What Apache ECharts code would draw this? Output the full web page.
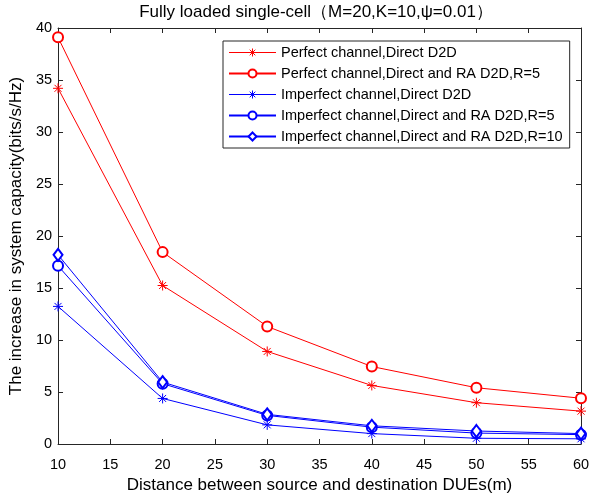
<!DOCTYPE html>
<html>
<head>
<meta charset="utf-8">
<script src="https://cdn.jsdelivr.net/npm/echarts@6/dist/echarts.min.js"></script>
<style>
  html, body { margin: 0; padding: 0; background: #fff; }
  #chart { width: 594px; height: 499px; }
</style>
</head>
<body>
<div id="chart"></div>
<script>
// distance between source and destination DUEs (m)
const distances = [10, 20, 30, 40, 50, 60]
const perfectDirect = [34.2, 15.24, 8.9, 5.63, 3.97, 3.16]
const perfectRA5 = [39.1, 18.45, 11.3, 7.45, 5.41, 4.4]
const imperfectDirect = [13.23, 4.38, 1.84, 1.0, 0.55, 0.5]
const imperfectRA5 = [17.13, 5.8, 2.75, 1.62, 1.05, 0.9]
const imperfectRA10 = [18.19, 5.95, 2.85, 1.75, 1.25, 1.0]

const xTicks = { min: 10, max: 60, interval: 5 }
const yTicks = { min: 0, max: 40, interval: 5 }

// MATLAB style '*' marker
const asterisk = 'path://M0,-10L0,10M-10,0L10,0M-7,-7L7,7M-7,7L7,-7'

const RED = '#ff0000'
const BLUE = '#0000ff'

function pts(vals) {
  return distances.map((d, i) => [d, vals[i]])
}

function makeSeries(name, vals, color, symbol, size) {
  return {
    name: name,
    type: 'line',
    color: color,
    data: pts(vals),
    symbol: symbol,
    symbolSize: size,
    showAllSymbol: true,
    lineStyle: { color: color, width: 1 },
    itemStyle: { color: color, borderColor: color, borderWidth: 1 },
    emphasis: { disabled: true },
    animation: false,
  }
}

// asterisk entries need an explicit stroke in the legend, the others are fine as is
function starLegend(name, color) {
  return {
    name: name,
    lineStyle: { color: color, width: 1, opacity: 1 },
    itemStyle: { color: color, borderColor: color, borderWidth: 1 },
  }
}

const axisColor = '#262626'
const font = 'Liberation Sans, Arial, sans-serif'

const chart = echarts.init(document.getElementById('chart'))

chart.setOption({
  backgroundColor: '#fff',
  title: {
    text: 'Fully loaded single-cell（M=20,K=10,ψ=0.01）',
    left: 316,
    textAlign: 'center',
    top: 4,
    padding: 0,
    textStyle: { fontFamily: font, fontSize: 17, fontWeight: 'normal', color: '#000' },
  },
  grid: { left: 56, right: 13, top: 28, bottom: 54, show: false },
  legend: {
    orient: 'vertical',
    left: 223,
    top: 41,
    padding: [3.5, 7, 3.5, 5],
    itemWidth: 47,
    itemHeight: 10,
    itemGap: 5,
    borderColor: axisColor,
    borderWidth: 1,
    backgroundColor: '#fff',
    textStyle: { fontFamily: font, fontSize: 14.5, lineHeight: 16, color: '#000', padding: [0, 0, 0, 0] },
    data: [
      starLegend('Perfect channel,Direct D2D', RED),
      'Perfect channel,Direct and RA D2D,R=5',
      starLegend('Imperfect channel,Direct D2D', BLUE),
      'Imperfect channel,Direct and RA D2D,R=5',
      'Imperfect channel,Direct and RA D2D,R=10',
    ],
  },
  xAxis: [
    {
      type: 'value',
      min: xTicks.min,
      max: xTicks.max,
      interval: xTicks.interval,
      name: 'Distance between source and destination DUEs(m)',
      nameLocation: 'middle',
      nameGap: 33,
      nameTextStyle: { fontFamily: font, fontSize: 17, color: '#000' },
      axisLine: { onZero: false, lineStyle: { color: axisColor, width: 1 } },
      axisTick: { inside: true, length: 5, lineStyle: { color: axisColor } },
      axisLabel: { margin: 13, fontFamily: font, fontSize: 14.5, color: '#000' },
      splitLine: { show: false },
    },
    {
      type: 'value',
      position: 'top',
      min: xTicks.min,
      max: xTicks.max,
      interval: xTicks.interval,
      axisLine: { onZero: false, lineStyle: { color: axisColor, width: 1 } },
      axisTick: { inside: true, length: 5, lineStyle: { color: axisColor } },
      axisLabel: { show: false },
      splitLine: { show: false },
    },
  ],
  yAxis: [
    {
      type: 'value',
      min: yTicks.min,
      max: yTicks.max,
      interval: yTicks.interval,
      name: 'The increase in system capacity(bits/s/Hz)',
      nameLocation: 'middle',
      nameGap: 29,
      nameTextStyle: { fontFamily: font, fontSize: 17, color: '#000' },
      axisLine: { show: true, onZero: false, lineStyle: { color: axisColor, width: 1 } },
      axisTick: { show: true, inside: true, length: 5, lineStyle: { color: axisColor } },
      axisLabel: { margin: 6, fontFamily: font, fontSize: 14.5, color: '#000' },
      splitLine: { show: false },
    },
    {
      type: 'value',
      position: 'right',
      min: yTicks.min,
      max: yTicks.max,
      interval: yTicks.interval,
      axisLine: { show: true, onZero: false, lineStyle: { color: axisColor, width: 1 } },
      axisTick: { show: true, inside: true, length: 5, lineStyle: { color: axisColor } },
      axisLabel: { show: false },
      splitLine: { show: false },
    },
  ],
  series: [
    makeSeries('Perfect channel,Direct D2D', perfectDirect, RED, asterisk, 10),
    makeSeries('Perfect channel,Direct and RA D2D,R=5', perfectRA5, RED, 'emptyCircle', 10),
    makeSeries('Imperfect channel,Direct D2D', imperfectDirect, BLUE, asterisk, 10),
    makeSeries('Imperfect channel,Direct and RA D2D,R=5', imperfectRA5, BLUE, 'emptyCircle', 10),
    makeSeries('Imperfect channel,Direct and RA D2D,R=10', imperfectRA10, BLUE, 'emptyDiamond', [9, 12]),
  ],
})
</script>
</body>
</html>
